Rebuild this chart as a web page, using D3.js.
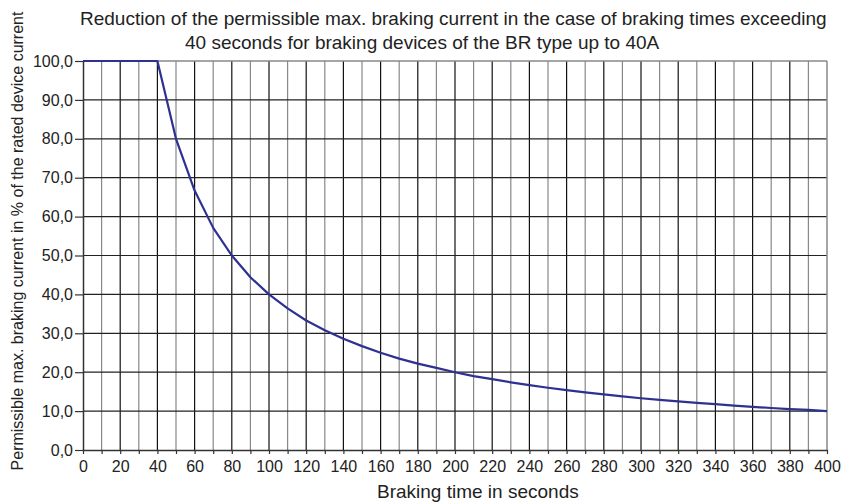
<!DOCTYPE html>
<html>
<head>
<meta charset="utf-8">
<script src="https://cdn.jsdelivr.net/npm/d3@7"></script>
<style>
  body { margin: 0; background: #fff; }
  svg { font-family: "Liberation Sans", Arial, sans-serif; }
</style>
</head>
<body>
<svg id="chart" width="848" height="503"></svg>
<script>
const titleLines = [
  "Reduction of the permissible max. braking current in the case of braking times exceeding",
  "40 seconds for braking devices of the BR type up to 40A"
];
const xTitle = "Braking time in seconds";
const yTitle = "Permissible max. braking current in % of the rated device current";

const times = [0,10,20,30,40,50,60,70,80,90,100,110,120,130,140,150,160,170,180,190,200,
               210,220,230,240,250,260,270,280,290,300,310,320,330,340,350,360,370,380,390,400];
const current = [100,100,100,100,100,80,66.7,57.1,50,44.4,40,36.4,33.3,30.8,28.6,26.7,25,23.5,22.2,21.1,20,
                 19.0,18.2,17.4,16.7,16.0,15.4,14.8,14.3,13.8,13.3,12.9,12.5,12.1,11.8,11.4,11.1,10.8,10.5,10.3,10];
const xTicks = d3.range(0, 401, 10);
const yTicks = d3.range(0, 101, 10);

const svg = d3.select("#chart");
const mLeft = 83, mRight = 827, mTop = 61, mBottom = 450;
const x = d3.scaleLinear().domain([0, 400]).range([mLeft, mRight]);
const y = d3.scaleLinear().domain([0, 100]).range([mBottom, mTop]);

// vertical grid
svg.append("g").selectAll("line").data(xTicks.filter(d => d > 0 && d < 400)).join("line")
  .attr("x1", d => x(d)).attr("x2", d => x(d))
  .attr("y1", mTop).attr("y2", mBottom)
  .attr("stroke", d => d % 20 === 0 ? "#111" : "#888")
  .attr("stroke-width", 1.2);

// horizontal grid
svg.append("g").selectAll("line").data(yTicks.filter(d => d > 0 && d < 100)).join("line")
  .attr("x1", mLeft).attr("x2", mRight)
  .attr("y1", d => y(d)).attr("y2", d => y(d))
  .attr("stroke", "#222")
  .attr("stroke-width", 1.2);

// border top/right (grey)
svg.append("line").attr("x1", mLeft).attr("x2", mRight).attr("y1", mTop).attr("y2", mTop)
  .attr("stroke", "#888").attr("stroke-width", 1.5);
svg.append("line").attr("x1", mRight).attr("x2", mRight).attr("y1", mTop).attr("y2", mBottom)
  .attr("stroke", "#888").attr("stroke-width", 1.5);

// axes
const xAxis = d3.axisBottom(x).tickValues(xTicks).tickSizeInner(4).tickSizeOuter(0)
  .tickFormat(d => d % 20 === 0 ? d : "");
const gx = svg.append("g").attr("transform", `translate(0,${mBottom})`).call(xAxis);
gx.attr("font-size", 16).attr("font-family", "Liberation Sans, Arial, sans-serif");
gx.select(".domain").attr("stroke", "#333").attr("stroke-width", 1.5);
gx.selectAll(".tick line").attr("stroke", "#333").attr("stroke-width", 1.2);
gx.selectAll("text").attr("fill", "#222").attr("y", 10).attr("dy", "0.78em");

const yAxis = d3.axisLeft(y).tickValues(yTicks).tickSizeInner(8).tickSizeOuter(0)
  .tickFormat(d => d3.format(".1f")(d).replace(".", ","));
const gy = svg.append("g").attr("transform", `translate(${mLeft},0)`).call(yAxis);
gy.attr("font-size", 16).attr("font-family", "Liberation Sans, Arial, sans-serif");
gy.select(".domain").attr("stroke", "#333").attr("stroke-width", 1.5);
gy.selectAll(".tick line").attr("stroke", "#333").attr("stroke-width", 1.2);
gy.selectAll("text").attr("fill", "#222").attr("x", -10);

// curve
const line = d3.line().x((d, i) => x(times[i])).y(d => y(d));
svg.append("path").datum(current).attr("d", line)
  .attr("fill", "none").attr("stroke", "#2e3192").attr("stroke-width", 2.2)
  .attr("stroke-linejoin", "round");

// titles
svg.append("text").attr("x", 80).attr("y", 25).attr("font-size", 19).attr("fill", "#222")
  .text(titleLines[0]);
svg.append("text").attr("x", 185).attr("y", 49).attr("font-size", 19).attr("fill", "#222")
  .text(titleLines[1]);
svg.append("text").attr("x", 377).attr("y", 498).attr("font-size", 19).attr("fill", "#222")
  .text(xTitle);
svg.append("text").attr("transform", "translate(23,241) rotate(-90)")
  .attr("text-anchor", "middle").attr("font-size", 16).attr("fill", "#222")
  .text(yTitle);
</script>
</body>
</html>
